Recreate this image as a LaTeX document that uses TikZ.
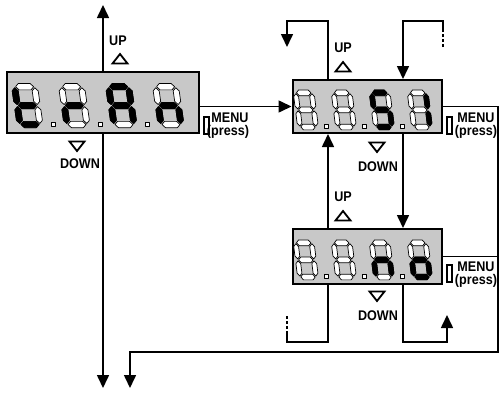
\documentclass[tikz,border=0pt]{standalone}
\usepackage{fontspec}
\setmainfont{Liberation Sans}
\usetikzlibrary{arrows.meta}
\definecolor{lcdgray}{RGB}{200,200,200}
\newcommand\Sega[1]{\path[#1] (1,36) -- (4,39) -- (16,39) -- (19,36) -- (16,33) -- (4,33) -- cycle;}
\newcommand\Segg[1]{\path[#1] (1,18) -- (4,21) -- (16,21) -- (19,18) -- (16,15) -- (4,15) -- cycle;}
\newcommand\Segd[1]{\path[#1] (1,0) -- (4,3) -- (16,3) -- (19,0) -- (16,-3) -- (4,-3) -- cycle;}
\newcommand\Segf[1]{\path[#1] (0,19) -- (3,22) -- (3,32) -- (0,35) -- (-3,32) -- (-3,22) -- cycle;}
\newcommand\Segb[1]{\path[#1] (20,19) -- (23,22) -- (23,32) -- (20,35) -- (17,32) -- (17,22) -- cycle;}
\newcommand\Sege[1]{\path[#1] (0,1) -- (3,4) -- (3,14) -- (0,17) -- (-3,14) -- (-3,4) -- cycle;}
\newcommand\Segc[1]{\path[#1] (20,1) -- (23,4) -- (23,14) -- (20,17) -- (17,14) -- (17,4) -- cycle;}
\newcommand\Segz[1]{}
\newcommand\LcdDigit[5]{%
  \begin{scope}[shift={(#1,#2)},yscale=-1,xscale=#3,yscale=#4,xslant=0.15]
    \foreach \s in {a,b,c,d,e,f,g}{\csname Seg\s\endcsname{segoff}}
    \foreach \s in {#5}{\csname Seg\s\endcsname{segon}}
  \end{scope}}
\newcommand\LcdDot[4]{%
  \begin{scope}[shift={(#1,#2)},yscale=-1,xscale=#3,yscale=#4]
    \path[segoff] (31,-1.5) rectangle (35,2.5);
  \end{scope}}
\newcommand\UpTri[2]{\draw[tri] (#1-7.5,#2+4.5) -- (#1+7.5,#2+4.5) -- (#1,#2-5) -- cycle;}
\newcommand\DnTri[2]{\draw[tri] (#1-7.5,#2-4.5) -- (#1+7.5,#2-4.5) -- (#1,#2+5) -- cycle;}
\newcommand\Lab[1]{\scalebox{0.9}[1]{#1}}
\begin{document}
\begin{tikzpicture}[x=1pt,y=-1pt,
  lcd/.style={draw, fill=lcdgray, line width=2pt, inner sep=0pt},
  segoff/.style={fill=white, draw=black, line width=0.7pt, line join=round},
  segon/.style={fill=black, draw=black, line width=0.7pt, line join=round},
  conn/.style={line width=1.6pt},
  arr/.style={conn, -{Triangle[width=12pt,length=13pt]}},
  dsh/.style={line width=1.6pt, dash pattern=on 3pt off 2pt},
  tri/.style={line width=1.8pt, line join=miter},
  btn/.style={line width=1.6pt},
  lbl/.style={font=\fontsize{14}{14}\selectfont\bfseries, inner sep=0pt}]
\fill[white] (0,0) rectangle (501,394);
\useasboundingbox (0,0) rectangle (501,394);

% displays
\node[lcd, minimum width=192pt, minimum height=61pt] (d1) at (103,102.5) {};
\node[lcd, minimum width=149pt, minimum height=53pt] (d2) at (367,106.5) {};
\node[lcd, minimum width=149pt, minimum height=55pt] (d3) at (367,256.5) {};

% digits display 1: t r A n
\LcdDigit{20}{124.5}{1}{1.05}{d,e,f,g}
\LcdDigit{67}{124.5}{1}{1.05}{e,g}
\LcdDigit{114}{124.5}{1}{1.05}{a,b,c,e,f,g}
\LcdDigit{161}{124.5}{1}{1.05}{c,e,g}
\LcdDot{20}{124.5}{1}{1.05}
\LcdDot{67}{124.5}{1}{1.05}
\LcdDot{114}{124.5}{1}{1.05}

% display 2: . . S I
\LcdDigit{300}{127}{0.8}{0.95}{z}
\LcdDigit{338}{127}{0.8}{0.95}{z}
\LcdDigit{376}{127}{0.8}{0.95}{a,f,g,c,d}
\LcdDigit{414}{127}{0.8}{0.95}{b,c}
\LcdDot{300}{127}{0.8}{0.95}
\LcdDot{338}{127}{0.8}{0.95}
\LcdDot{376}{127}{0.8}{0.95}

% display 3: . . n o
\LcdDigit{300}{277}{0.8}{0.95}{z}
\LcdDigit{338}{277}{0.8}{0.95}{z}
\LcdDigit{376}{277}{0.8}{0.95}{c,e,g}
\LcdDigit{414}{277}{0.8}{0.95}{c,d,e,g}
\LcdDot{300}{277}{0.8}{0.95}
\LcdDot{338}{277}{0.8}{0.95}
\LcdDot{376}{277}{0.8}{0.95}

% free ends and bends
\coordinate (topend) at (103,5);
\coordinate (botend) at (103,388);
\coordinate (tlc) at (287,21);
\coordinate (tle) at (287,47);
\coordinate (trd) at (443,47);
\coordinate (trm) at (443,29);
\coordinate (trc) at (443,21);
\coordinate (rc2) at (498,352);
\coordinate (bend) at (130,388);
\coordinate (blc) at (287,342);
\coordinate (blm) at (287,334);
\coordinate (bld) at (287,316);
\coordinate (brc) at (447,342);
\coordinate (bre) at (447,315);

% connectors
\draw[arr] (d1.north) -- (topend);
\draw[arr] (d1.south) -- (botend);
\draw[arr] (d1.east |- d2.west) -- (d2.west);
\draw[arr] ([xshift=-39pt]d2.north) |- (tlc) -- (tle);
\draw[dsh] (trd) -- (trm);
\draw[arr] (trm) -- (trc) -| ([xshift=36pt]d2.north);
\draw[arr] ([xshift=-39pt]d3.north) -- ([xshift=-39pt]d2.south);
\draw[arr] ([xshift=36pt]d2.south) -- ([xshift=36pt]d3.north);
\draw[arr] (d2.east) -| (rc2) -| (bend);
\draw[conn] (d3.east) -- (d3.east -| rc2);
\draw[conn] ([xshift=-39pt]d3.south) |- (blc) -- (blm);
\draw[dsh] (blm) -- (bld);
\draw[arr] ([xshift=36pt]d3.south) |- (brc) -- (bre);

% labels display 1
\node[lbl] (up1) at (118,41) {\Lab{UP}};
\UpTri{120}{59}
\DnTri{77}{146}
\node[lbl] (dn1) at (80,164) {\Lab{DOWN}};
\draw[btn] (204,117) rectangle (209,134);
\node[lbl] (m1) at (230,118) {\Lab{MENU}};
\node[lbl] (p1) at (228,132) {\Lab{(press)}};

% labels display 2
\node[lbl] (up2) at (343,48) {\Lab{UP}};
\UpTri{343}{67}
\DnTri{377}{147}
\node[lbl] (dn2) at (378,167) {\Lab{DOWN}};
\draw[btn] (447,117) rectangle (452,134);
\node[lbl] (m2) at (476,118) {\Lab{MENU}};
\node[lbl] (p2) at (476,132) {\Lab{(press)}};

% labels display 3
\node[lbl] (up3) at (343,197) {\Lab{UP}};
\UpTri{343}{216}
\DnTri{377}{296}
\node[lbl] (dn3) at (378,316) {\Lab{DOWN}};
\draw[btn] (447,265) rectangle (452,282);
\node[lbl] (m3) at (476,267) {\Lab{MENU}};
\node[lbl] (p3) at (476,281) {\Lab{(press)}};
\end{tikzpicture}
\end{document}
